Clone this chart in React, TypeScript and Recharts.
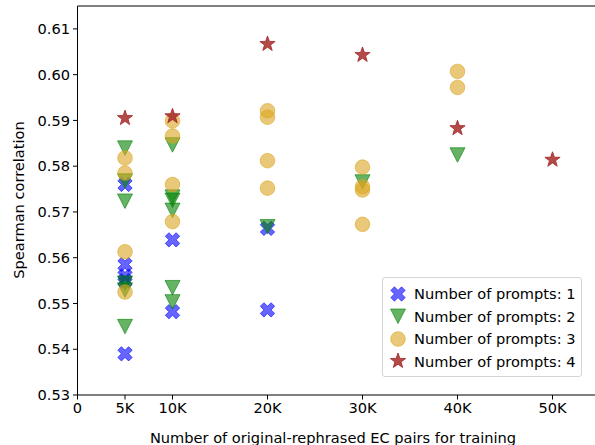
import {
  ReferenceLine,
  Scatter,
  ScatterChart,
  XAxis,
  YAxis,
} from "recharts";

// x = training pairs, y = Spearman correlation
const xs1 = [5000, 5000, 5000, 5000, 5000, 10000, 10000, 20000, 20000];
const ys1 = [0.576, 0.5585, 0.556, 0.555, 0.539, 0.5639, 0.5482, 0.5664, 0.5486];

const xs2 = [5000, 5000, 5000, 5000, 5000, 5000, 10000, 10000, 10000, 10000, 10000, 10000, 20000, 30000, 40000];
const ys2 = [0.584, 0.5768, 0.5724, 0.5545, 0.553, 0.545, 0.5847, 0.5733, 0.5726, 0.5704, 0.5535, 0.5504, 0.5668, 0.5766, 0.5825];

const xs3 = [5000, 5000, 5000, 5000, 10000, 10000, 10000, 10000, 20000, 20000, 20000, 20000, 30000, 30000, 30000, 30000, 40000, 40000];
const ys3 = [0.5818, 0.5785, 0.5613, 0.5525, 0.5899, 0.5866, 0.576, 0.5679, 0.5921, 0.5907, 0.5812, 0.5752, 0.5798, 0.5755, 0.5748, 0.5673, 0.6007, 0.5972];

const xs4 = [5000, 10000, 20000, 30000, 40000, 50000];
const ys4 = [0.5905, 0.5909, 0.6067, 0.6043, 0.5883, 0.5814];

const xTicks = [0, 5000, 10000, 20000, 30000, 40000, 50000];
const yTicks = [0.53, 0.54, 0.55, 0.56, 0.57, 0.58, 0.59, 0.6, 0.61];
const labels = ["Number of prompts: 1", "Number of prompts: 2", "Number of prompts: 3", "Number of prompts: 4"];

const toPts = (xs: number[], ys: number[]) => xs.map((x, i) => ({ x, y: ys[i] }));

const FONT = "'DejaVu Sans', sans-serif";
const FS = 14.6;

const BLUE = "#0000ff";
const GREEN = "#008000";
const GOLD = "#daa520";
const BROWN = "#a52a2a";

function xPath(cx: number, cy: number, r: number) {
  // filled plus rotated by 45deg (matplotlib "X")
  const base = [[-1, -3], [1, -3], [1, -1], [3, -1], [3, 1], [1, 1], [1, 3], [-1, 3], [-1, 1], [-3, 1], [-3, -1], [-1, -1]];
  const c = Math.SQRT1_2;
  return base
    .map(([a, b], i) => {
      const px = ((a - b) * c * r) / 3;
      const py = ((a + b) * c * r) / 3;
      return `${i ? "L" : "M"}${cx + px},${cy + py}`;
    })
    .join("") + "Z";
}

function starPath(cx: number, cy: number, r: number) {
  const inner = r * 0.4;
  let d = "";
  for (let i = 0; i < 10; i++) {
    const rr = i % 2 ? inner : r;
    const a = -Math.PI / 2 + (i * Math.PI) / 5;
    d += `${i ? "L" : "M"}${cx + rr * Math.cos(a)},${cy + rr * Math.sin(a)}`;
  }
  return d + "Z";
}

function Mark({ kind, cx, cy }: { kind: number; cx: number; cy: number }) {
  if (kind === 0)
    return <path d={xPath(cx, cy, 7.6)} fill={BLUE} stroke={BLUE} fillOpacity={0.6} strokeOpacity={0.6} />;
  if (kind === 1)
    return (
      <path
        d={`M${cx - 7.5},${cy - 7}L${cx + 7.5},${cy - 7}L${cx},${cy + 7.5}Z`}
        fill={GREEN}
        stroke={GREEN}
        fillOpacity={0.6}
        strokeOpacity={0.6}
      />
    );
  if (kind === 2)
    return <circle cx={cx} cy={cy} r={7.3} fill={GOLD} stroke={GOLD} fillOpacity={0.6} strokeOpacity={0.6} />;
  return <path d={starPath(cx, cy, 8)} fill={BROWN} stroke={BROWN} fillOpacity={0.85} strokeOpacity={0.85} />;
}

const tickStyle = { fill: "#000", fontSize: FS, fontFamily: FONT };

export default function App() {
  const series = [toPts(xs1, ys1), toPts(xs2, ys2), toPts(xs3, ys3), toPts(xs4, ys4)];
  return (
    <div style={{ position: "absolute", left: 0, top: 0, width: 595, height: 445, overflow: "hidden", background: "#fff" }}>
      <ScatterChart width={600} height={445} margin={{ top: 6, right: 0, bottom: 0, left: 7.5 }}>
        <XAxis
          type="number"
          dataKey="x"
          domain={[0, 55000]}
          ticks={xTicks}
          allowDataOverflow
          tickFormatter={(v: number) => (v === 0 ? "0" : `${v / 1000}K`)}
          height={50}
          tickSize={4.5}
          tickMargin={3}
          stroke="#000"
          tick={tickStyle}
        />
        <YAxis
          type="number"
          dataKey="y"
          domain={[0.53, 0.615]}
          ticks={yTicks}
          allowDataOverflow
          tickFormatter={(v: number) => v.toFixed(2)}
          width={70}
          tickSize={4.5}
          tickMargin={3}
          stroke="#000"
          tick={tickStyle}
        />
        <ReferenceLine y={0.615} stroke="#000" ifOverflow="visible" />
        {series.map((pts, k) => (
          <Scatter
            key={k}
            data={pts}
            isAnimationActive={false}
            shape={(p: any) => <Mark kind={k} cx={p.cx} cy={p.cy} />}
          />
        ))}
      </ScatterChart>

      <div
        style={{
          position: "absolute",
          left: 18,
          top: 200,
          transform: "translate(-50%, -50%) rotate(-90deg)",
          transformOrigin: "center",
          whiteSpace: "nowrap",
          fontFamily: FONT,
          fontSize: FS,
        }}
      >
        Spearman correlation
      </div>
      <div
        style={{
          position: "absolute",
          left: 333,
          top: 437,
          transform: "translate(-50%, -50%)",
          whiteSpace: "nowrap",
          fontFamily: FONT,
          fontSize: FS,
        }}
      >
        Number of original-rephrased EC pairs for training
      </div>

      <div
        style={{
          position: "absolute",
          left: 382,
          top: 277,
          width: 198,
          height: 98,
          border: "1px solid #d5d5d5",
          borderRadius: 3,
          background: "rgba(255,255,255,0.8)",
          fontFamily: FONT,
          fontSize: FS,
        }}
      >
        {labels.map((t, k) => (
          <div key={t} style={{ position: "absolute", left: 0, top: 4.5 + k * 22.5, height: 22, display: "flex", alignItems: "center" }}>
            <svg width={30} height={22} style={{ display: "block" }}>
              <Mark kind={k} cx={15} cy={11} />
            </svg>
            <span style={{ marginLeft: 1 }}>{t}</span>
          </div>
        ))}
      </div>
    </div>
  );
}
